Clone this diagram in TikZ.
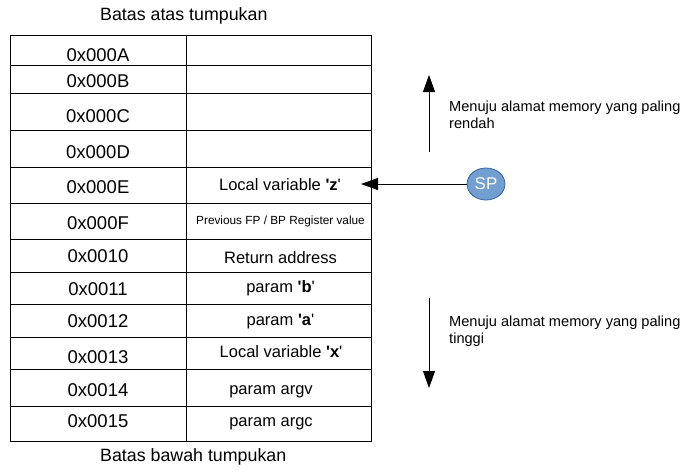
\documentclass[tikz,border=0pt]{standalone}
\usepackage{fontspec}
\setmainfont{Liberation Sans}
\usetikzlibrary{arrows.meta,shapes.geometric}
\definecolor{spfill}{HTML}{729FCF}
\definecolor{spline}{HTML}{3465A4}
\newcommand{\sq}{\textquotesingle}
\begin{document}
\begin{tikzpicture}[x=1pt,y=-1pt,
  cell/.style={draw, line width=1pt, rectangle, inner sep=0pt, outer sep=0pt, text depth=0pt},
  addr/.style={cell, minimum width=176pt, text height=17.2pt, font=\fontsize{18.5}{20}\selectfont},
  cont/.style={cell, minimum width=185pt, text height=11.8pt, font=\fontsize{16.5}{18}\selectfont},
  smallcont/.style={cont, text height=7pt, font=\fontsize{11.8}{13}\selectfont},
  title/.style={anchor=base west, inner sep=0pt, font=\fontsize{17.8}{19}\selectfont},
  side/.style={anchor=north west, align=left, inner sep=0pt, font=\fontsize{14.6}{16.7}\selectfont},
  arr/.style={line width=1pt, -{Triangle[length=17pt,width=12pt]}},
  spnode/.style={ellipse, draw=spline, fill=spfill, line width=0.8pt, minimum width=38pt,
    minimum height=32pt, inner sep=0pt, text=white, font=\fontsize{17}{18}\selectfont}
]
\useasboundingbox (0,0) rectangle (698,472);

% titles
\node[title] (top) at (100,20) {Batas atas tumpukan};
\node[title] (bot) at (100,461.7) {Batas bawah tumpukan};

% address column (x 10..186), content column (x 186..371)
\node[addr, minimum height=30pt, text height=22.2pt] (a1)  at (98,50)    {0x000A};
\node[cont, minimum height=30pt] (c1)  at (278.5,50) {};
\node[addr, minimum height=28pt] (a2)  at (98,79)    {0x000B};
\node[cont, minimum height=28pt] (c2)  at (278.5,79) {};
\node[addr, minimum height=37pt, text height=22.2pt] (a3)  at (98,111.5) {0x000C};
\node[cont, minimum height=37pt] (c3)  at (278.5,111.5) {};
\node[addr, minimum height=37pt, text height=20.2pt] (a4)  at (98,148.5) {0x000D};
\node[cont, minimum height=37pt] (c4)  at (278.5,148.5) {};
\node[addr, minimum height=36pt] (a5)  at (98,185)   {0x000E};
\node[cont, minimum height=36pt, text height=10.8pt] (c5)  at (278.5,185) {\hspace*{3pt}Local variable \textbf{\sq z}\sq};
\node[addr, minimum height=36pt] (a6)  at (98,221)   {0x000F};
\node[smallcont, minimum height=36pt] (c6)  at (278.5,221) {\hspace*{4pt}Previous FP / BP Register value};
\node[addr, minimum height=33pt, text height=13.2pt] (a7)  at (98,255.5) {0x0010};
\node[cont, minimum height=33pt, text height=15.8pt] (c7)  at (278.5,255.5) {\hspace*{4pt}Return address};
\node[addr, minimum height=32pt, text height=15.2pt] (a8)  at (98,288)   {0x0011};
\node[cont, minimum height=32pt, text height=8.4pt] (c8)  at (278.5,288) {\hspace*{4pt}param \textbf{\sq b}\sq};
\node[addr, minimum height=33pt, text height=13.2pt] (a9)  at (98,320.5) {0x0012};
\node[cont, minimum height=33pt, text height=9.2pt] (c9)  at (278.5,320.5) {\hspace*{4pt}param \textbf{\sq a}\sq};
\node[addr, minimum height=32pt, text height=21.8pt] (a10) at (98,353)   {0x0013};
\node[cont, minimum height=32pt, text height=8.8pt] (c10) at (278.5,353) {\hspace*{5pt}Local variable \textbf{\sq x}\sq};
\node[addr, minimum height=37pt] (a11) at (98,387.5) {0x0014};
\node[cont, minimum height=37pt, text height=13pt] (c11) at (278.5,387.5) {param argv\hspace*{15pt}};
\node[addr, minimum height=35pt, text height=8.2pt] (a12) at (98,423.5) {0x0015};
\node[cont, minimum height=35pt, text height=5pt] (c12) at (278.5,423.5) {param argc\hspace*{15pt}};

% stack pointer
\node[spnode] (sp) at (486,184) {SP};
\coordinate (sptip) at (361,184);
\draw[arr] (sp) -- (sptip);

% direction arrows
\coordinate (upfrom) at (429,152);
\coordinate (upto) at (429,75);
\draw[arr] (upfrom) -- (upto);
\coordinate (dnfrom) at (429,298);
\coordinate (dnto) at (429,388);
\draw[arr] (dnfrom) -- (dnto);

\node[side] (low) at (449,101) {Menuju alamat memory yang paling\\rendah};
\node[side] (high) at (449,316) {Menuju alamat memory yang paling\\tinggi};
\end{tikzpicture}
\end{document}
